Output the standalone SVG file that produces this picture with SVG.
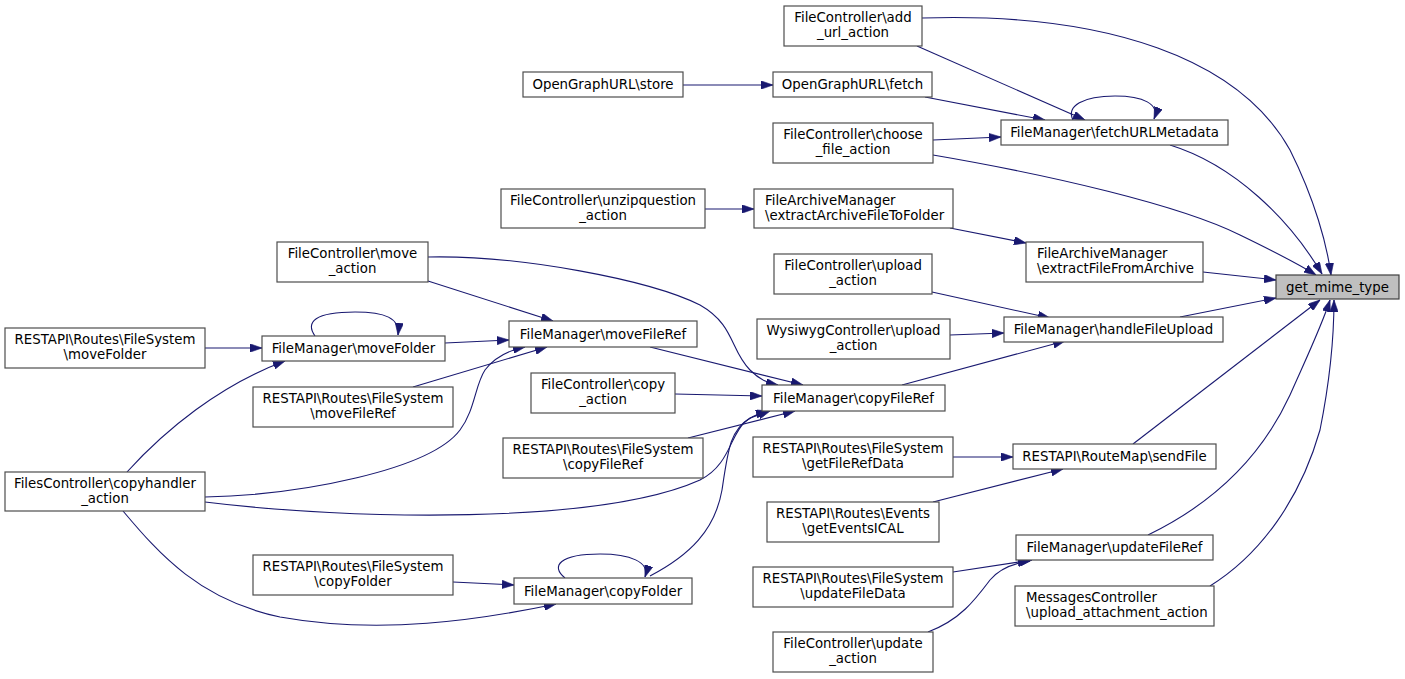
<svg xmlns="http://www.w3.org/2000/svg" width="1405" height="679" viewBox="0 0 1405 679">
<style>
.n rect{fill:#ffffff;stroke:#4d4d4d;stroke-width:1.2}
.n.root rect{fill:#bfbfbf;stroke:#404040}
.n text{font-family:"DejaVu Sans",sans-serif;font-size:13.33px;fill:#000000;text-anchor:middle}
.n text.l{text-anchor:start}
.e path{fill:none;stroke:#191970;stroke-width:1.1;marker-end:url(#ah)}
</style>
<defs>
<marker id="ah" viewBox="0 0 10 7" refX="10" refY="3.5" markerWidth="12" markerHeight="8.4" markerUnits="userSpaceOnUse" orient="auto">
<path d="M0,0 L10,3.5 L0,7 z" fill="#191970" stroke="#191970" stroke-width="0.5"/>
</marker>
</defs>
<rect width="1405" height="679" fill="#ffffff"/>
<g class="e" id="edges">
<path d="M683,85 L773,85"/>
<path d="M925,97 L1045,120"/>
<path d="M917,46 L1085,120"/>
<path d="M922,18 C1110,12 1240,60 1290,150 C1315,200 1327,245 1331,275"/>
<path d="M933,140 L1001,137"/>
<path d="M933,155 C1050,175 1180,205 1240,235 C1275,252 1300,265 1316,275"/>
<path d="M1073,120 C1066,106 1083,96 1115,96 C1143,96 1160,104 1154,119"/>
<path d="M1170,145 C1235,165 1290,220 1322,274"/>
<path d="M705,209 L754,209"/>
<path d="M950,228 L1026,243"/>
<path d="M1203,272 L1276,280"/>
<path d="M932,292 L1050,318"/>
<path d="M950,335 L1004,333"/>
<path d="M1180,317 L1276,298"/>
<path d="M902,385 L1065,341"/>
<path d="M1133,444 L1320,300"/>
<path d="M1148,535 C1210,505 1260,460 1290,395 C1310,350 1322,325 1330,300"/>
<path d="M1210,586 C1260,555 1300,500 1320,430 C1330,380 1334,340 1334,300"/>
<path d="M953,457 L1013,457"/>
<path d="M933,502 L1063,469"/>
<path d="M953,572 L1032,560"/>
<path d="M928,632 C960,620 975,600 990,580 C1000,568 1015,563 1030,561"/>
<path d="M127,472 C165,430 220,385 285,361"/>
<path d="M205,348 L262,348"/>
<path d="M315,336 C305,322 315,312 355,312 C385,312 400,318 398,335"/>
<path d="M445,343 L509,340"/>
<path d="M428,281 L553,321"/>
<path d="M413,387 L547,347"/>
<path d="M205,497 C300,495 430,470 460,430 C475,410 475,385 485,370 C495,357 510,350 525,347"/>
<path d="M205,502 C350,520 600,525 700,480 C730,465 730,435 745,422 C752,416 760,413 768,411"/>
<path d="M650,576 C690,555 715,530 722,490 C728,450 730,430 750,418 L770,411"/>
<path d="M123,511 C160,555 200,600 280,617 C380,635 480,620 556,604"/>
<path d="M453,582 L514,585"/>
<path d="M565,578 C550,566 560,554 600,554 C630,554 650,562 645,577"/>
<path d="M650,347 L803,385"/>
<path d="M428,257 C520,255 650,280 700,305 C735,325 730,350 750,370 C760,380 768,383 778,385"/>
<path d="M675,394 L762,396"/>
<path d="M688,438 L795,411"/>
</g>
<g class="n root" id="get_mime_type"><rect x="1276" y="275" width="123" height="24"/><text x="1337.5" y="292">get_mime_type</text></g>
<g class="n" id="add_url_action"><rect x="784" y="6" width="138" height="40"/><text x="853" y="22">FileController\add</text><text x="853" y="37">_url_action</text></g>
<g class="n" id="og_fetch"><rect x="773" y="72" width="159" height="25"/><text x="852.5" y="89">OpenGraphURL\fetch</text></g>
<g class="n" id="og_store"><rect x="523" y="72" width="160" height="25"/><text x="603" y="89">OpenGraphURL\store</text></g>
<g class="n" id="choose_file_action"><rect x="773" y="123" width="160" height="40"/><text x="853" y="139">FileController\choose</text><text x="853" y="154">_file_action</text></g>
<g class="n" id="fetchURLMetadata"><rect x="1001" y="120" width="227" height="25"/><text x="1114.5" y="137">FileManager\fetchURLMetadata</text></g>
<g class="n" id="unzipquestion_action"><rect x="501" y="189" width="204" height="39"/><text x="603" y="205">FileController\unzipquestion</text><text x="603" y="220">_action</text></g>
<g class="n" id="extractArchiveFileToFolder"><rect x="754" y="189" width="199" height="39"/><text class="l" x="765" y="205">FileArchiveManager</text><text class="l" x="765" y="220">\extractArchiveFileToFolder</text></g>
<g class="n" id="extractFileFromArchive"><rect x="1026" y="242" width="177" height="40"/><text class="l" x="1037" y="258">FileArchiveManager</text><text class="l" x="1037" y="273">\extractFileFromArchive</text></g>
<g class="n" id="upload_action"><rect x="774" y="254" width="158" height="40"/><text x="853" y="270">FileController\upload</text><text x="853" y="285">_action</text></g>
<g class="n" id="wysiwyg_upload_action"><rect x="757" y="319" width="193" height="40"/><text x="853.5" y="335">WysiwygController\upload</text><text x="853.5" y="350">_action</text></g>
<g class="n" id="handleFileUpload"><rect x="1004" y="317" width="219" height="25"/><text x="1113.5" y="334">FileManager\handleFileUpload</text></g>
<g class="n" id="moveFileRef"><rect x="509" y="321" width="188" height="26"/><text x="603" y="339">FileManager\moveFileRef</text></g>
<g class="n" id="move_action"><rect x="277" y="242" width="151" height="40"/><text x="352.5" y="258">FileController\move</text><text x="352.5" y="273">_action</text></g>
<g class="n" id="moveFolder"><rect x="262" y="336" width="183" height="25"/><text x="353.5" y="353">FileManager\moveFolder</text></g>
<g class="n" id="rs_moveFolder"><rect x="5" y="328" width="200" height="40"/><text x="105" y="344">RESTAPI\Routes\FileSystem</text><text x="105" y="359">\moveFolder</text></g>
<g class="n" id="rs_moveFileRef"><rect x="253" y="387" width="200" height="40"/><text x="353" y="403">RESTAPI\Routes\FileSystem</text><text x="353" y="418">\moveFileRef</text></g>
<g class="n" id="copyhandler_action"><rect x="5" y="472" width="200" height="39"/><text x="105" y="488">FilesController\copyhandler</text><text x="105" y="503">_action</text></g>
<g class="n" id="copy_action"><rect x="531" y="373" width="144" height="40"/><text x="603" y="389">FileController\copy</text><text x="603" y="404">_action</text></g>
<g class="n" id="copyFileRef"><rect x="762" y="385" width="183" height="26"/><text x="853.5" y="403">FileManager\copyFileRef</text></g>
<g class="n" id="rs_copyFileRef"><rect x="503" y="438" width="200" height="40"/><text x="603" y="454">RESTAPI\Routes\FileSystem</text><text x="603" y="469">\copyFileRef</text></g>
<g class="n" id="rs_getFileRefData"><rect x="753" y="437" width="200" height="40"/><text x="853" y="453">RESTAPI\Routes\FileSystem</text><text x="853" y="468">\getFileRefData</text></g>
<g class="n" id="rs_getEventsICAL"><rect x="767" y="502" width="172" height="40"/><text x="853" y="518">RESTAPI\Routes\Events</text><text x="853" y="533">\getEventsICAL</text></g>
<g class="n" id="sendFile"><rect x="1013" y="444" width="203" height="25"/><text x="1114.5" y="461">RESTAPI\RouteMap\sendFile</text></g>
<g class="n" id="updateFileRef"><rect x="1016" y="535" width="197" height="25"/><text x="1114.5" y="552">FileManager\updateFileRef</text></g>
<g class="n" id="upload_attachment_action"><rect x="1015" y="586" width="199" height="40"/><text class="l" x="1026" y="602">MessagesController</text><text class="l" x="1026" y="617">\upload_attachment_action</text></g>
<g class="n" id="rs_updateFileData"><rect x="753" y="567" width="200" height="40"/><text x="853" y="583">RESTAPI\Routes\FileSystem</text><text x="853" y="598">\updateFileData</text></g>
<g class="n" id="update_action"><rect x="773" y="632" width="160" height="40"/><text x="853" y="648">FileController\update</text><text x="853" y="663">_action</text></g>
<g class="n" id="copyFolder"><rect x="514" y="578" width="178" height="26"/><text x="603" y="596">FileManager\copyFolder</text></g>
<g class="n" id="rs_copyFolder"><rect x="253" y="555" width="200" height="40"/><text x="353" y="571">RESTAPI\Routes\FileSystem</text><text x="353" y="586">\copyFolder</text></g>
</svg>
